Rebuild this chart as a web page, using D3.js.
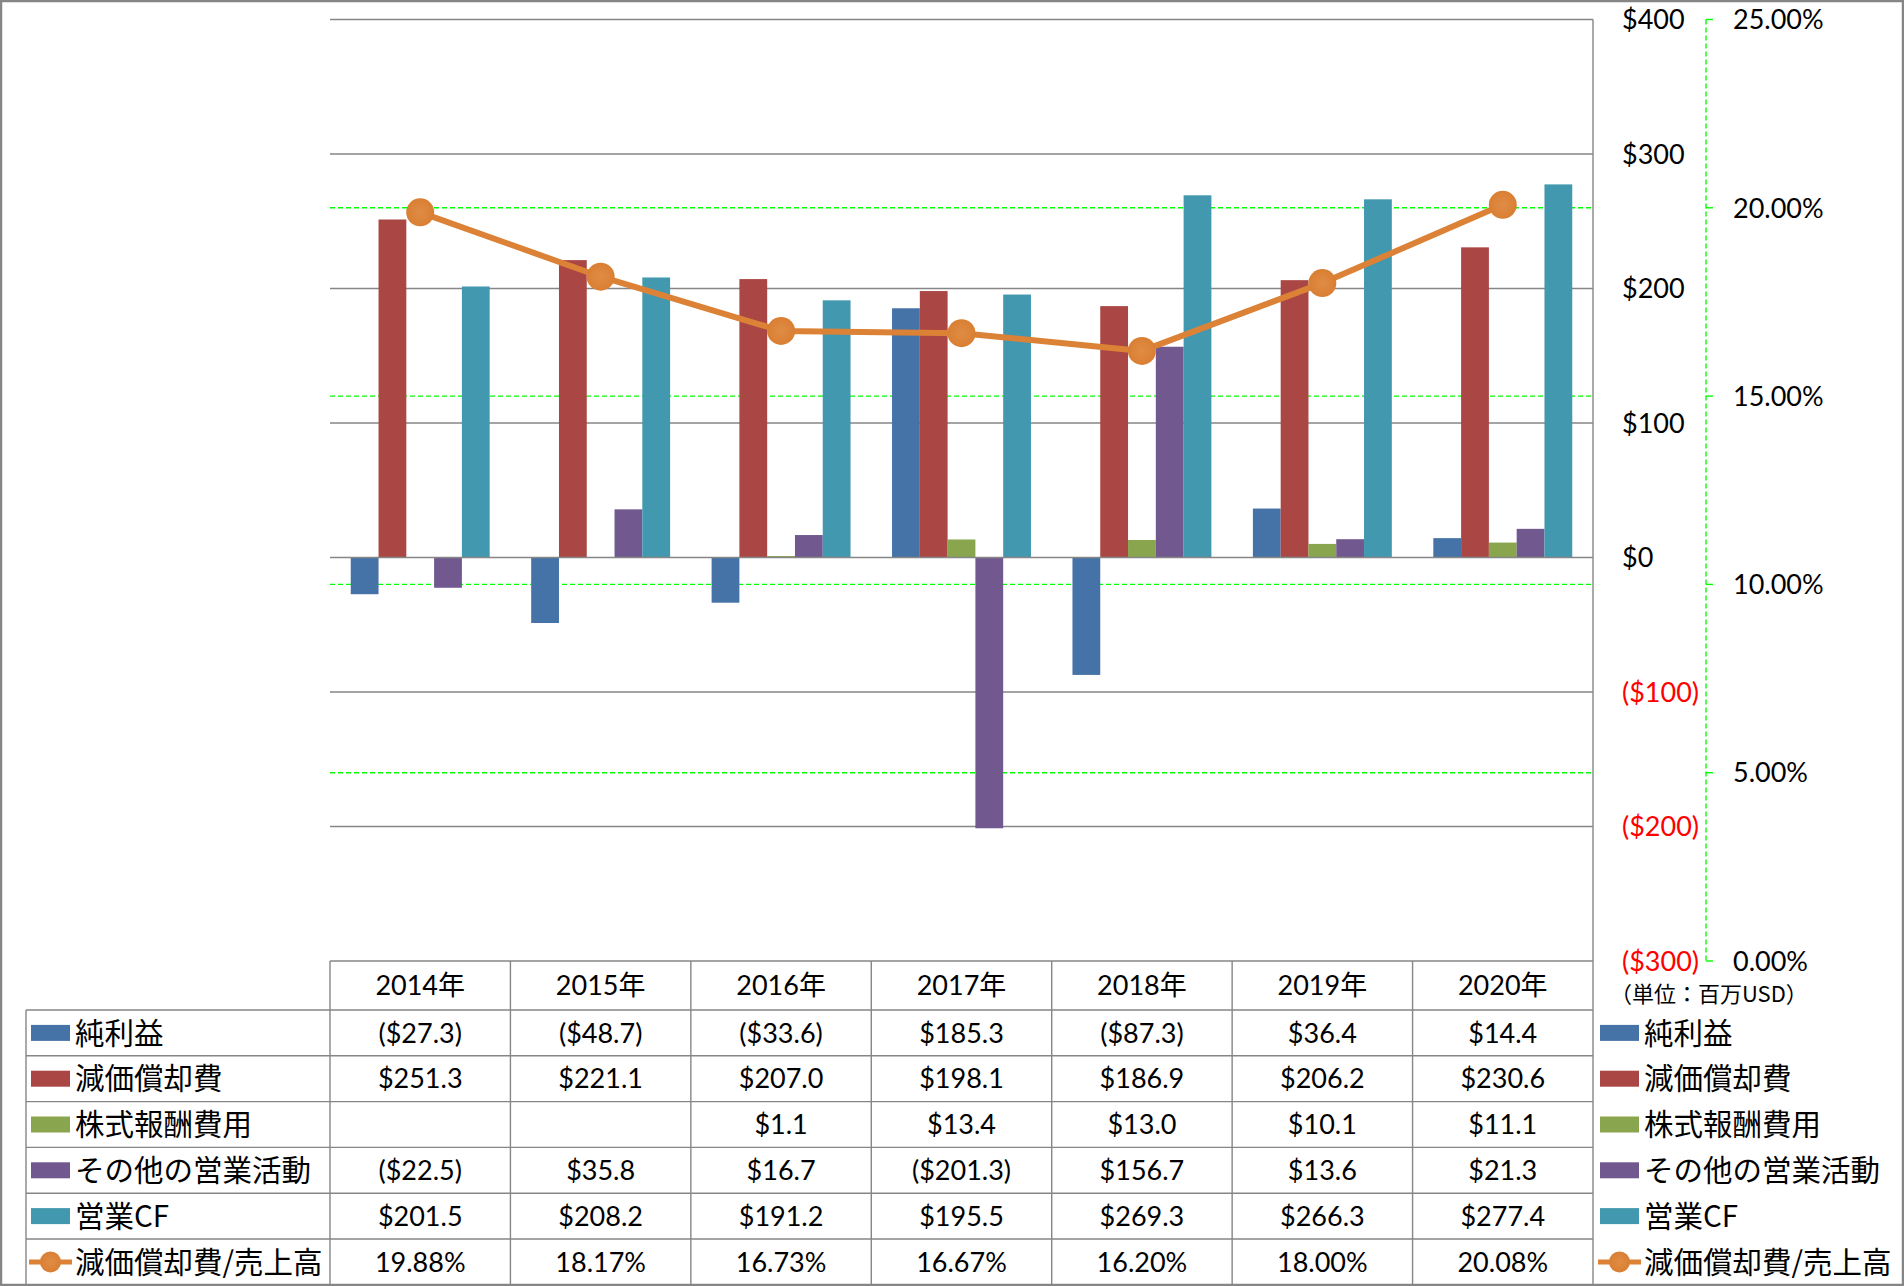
<!DOCTYPE html>
<html>
<head>
<meta charset="utf-8">
<script src="https://cdn.jsdelivr.net/npm/d3@7/dist/d3.min.js"></script>
<style>
  html, body { margin: 0; padding: 0; background: #fff; }
  svg { display: block; }
  text { font-family: Lato, "Noto Sans CJK JP", sans-serif; fill: #000; }
  .jp { font-family: "Noto Sans CJK JP", sans-serif; }
</style>
</head>
<body>
<svg id="chart" width="1904" height="1286"></svg>
<script>
// ---- data ----
const years = ["2014年", "2015年", "2016年", "2017年", "2018年", "2019年", "2020年"];
const netIncome    = [-27.3, -48.7, -33.6, 185.3, -87.3, 36.4, 14.4];
const depreciation = [251.3, 221.1, 207.0, 198.1, 186.9, 206.2, 230.6];
const stockComp    = [null, null, 1.1, 13.4, 13.0, 10.1, 11.1];
const otherOps     = [-22.5, 35.8, 16.7, -201.3, 156.7, 13.6, 21.3];
const operatingCF  = [201.5, 208.2, 191.2, 195.5, 269.3, 266.3, 277.4];
const depRatio     = [19.88, 18.17, 16.73, 16.67, 16.20, 18.00, 20.08];
const barNames  = ["純利益", "減価償却費", "株式報酬費用", "その他の営業活動", "営業CF"];
const lineName  = "減価償却費/売上高";
const barColors = ["#4572A7", "#AA4643", "#89A54E", "#71588F", "#4198AF"];
const lineColor = "#DC8236";
const leftTicks  = [-300, -200, -100, 0, 100, 200, 300, 400];
const rightTicks = [0, 5, 10, 15, 20, 25];
const unitLabel = "（単位：百万USD）";

const barSeries = [netIncome, depreciation, stockComp, otherOps, operatingCF];

// ---- layout ----
const W = 1904, H = 1286;
const plotL = 330, plotR = 1593, plotT = 19.5, plotB = 961;
const rowH = 45.8, headerB = 1010;
const gridColor = "#868686";

const svg = d3.select("#chart");

const x = d3.scaleBand().domain(years).range([plotL, plotR]).paddingInner(0.23).paddingOuter(0.115);
const xCol = d3.scaleBand().domain(years).range([plotL, plotR]).padding(0);
const xSub = d3.scaleBand().domain(d3.range(5)).range([0, x.bandwidth()]).padding(0);
const y = d3.scaleLinear().domain([-300, 400]).range([plotB, plotT]);
const y2 = d3.scaleLinear().domain([0, 25]).range([plotB, plotT]);

const fmtUSD = v => v == null ? "" : (v < 0 ? "($" + Math.abs(v).toFixed(1) + ")" : "$" + v.toFixed(1));
const fmtAxis = v => v < 0 ? "($" + Math.abs(v) + ")" : "$" + v;

// outer border
svg.append("rect").attr("x", 1).attr("y", 1).attr("width", W - 2).attr("height", H - 2)
  .attr("fill", "#fff").attr("stroke", gridColor).attr("stroke-width", 2.5);

// gray gridlines
svg.append("g").selectAll("line").data(leftTicks.filter(t => t > -300 && t !== 0)).join("line")
  .attr("x1", plotL).attr("x2", plotR).attr("y1", d => y(d)).attr("y2", d => y(d))
  .attr("stroke", gridColor).attr("stroke-width", 1.4);

// green dashed gridlines (secondary)
svg.append("g").selectAll("line").data(rightTicks.filter(t => t > 0 && t < 25)).join("line")
  .attr("x1", plotL).attr("x2", plotR).attr("y1", d => y2(d)).attr("y2", d => y2(d))
  .attr("stroke", "#00FF00").attr("stroke-width", 1.4).attr("stroke-dasharray", "5,3");

// bars
const gBars = svg.append("g");
barSeries.forEach((vals, si) => {
  gBars.append("g").selectAll("rect").data(vals.map((v, i) => ({ v, i })).filter(d => d.v != null)).join("rect")
    .attr("x", d => x(years[d.i]) + xSub(si))
    .attr("width", xSub.bandwidth())
    .attr("y", d => y(Math.max(0, d.v)))
    .attr("height", d => Math.abs(y(d.v) - y(0)))
    .attr("fill", barColors[si]);
});

// zero line
svg.append("line").attr("x1", plotL).attr("x2", plotR).attr("y1", y(0)).attr("y2", y(0))
  .attr("stroke", gridColor).attr("stroke-width", 1.4);

// primary axis (right)
svg.append("line").attr("x1", plotR).attr("x2", plotR).attr("y1", plotT).attr("y2", H - 2)
  .attr("stroke", gridColor).attr("stroke-width", 1.4);
svg.append("g").selectAll("text").data(leftTicks).join("text")
  .attr("x", 1622).attr("y", d => y(d)).attr("dy", "0.36em")
  .attr("font-size", 27)
  .style("fill", d => d < 0 ? "#FF0000" : "#000")
  .text(d => fmtAxis(d));

// secondary axis
const ax2 = 1706;
svg.append("line").attr("x1", ax2).attr("x2", ax2).attr("y1", plotT).attr("y2", plotB)
  .attr("stroke", "#00FF00").attr("stroke-width", 1.4).attr("stroke-dasharray", "5,3");
svg.append("g").selectAll("line").data(rightTicks).join("line")
  .attr("x1", ax2).attr("x2", ax2 + 7).attr("y1", d => y2(d)).attr("y2", d => y2(d))
  .attr("stroke", "#00FF00").attr("stroke-width", 1.4);
svg.append("g").selectAll("text").data(rightTicks).join("text")
  .attr("x", 1733).attr("y", d => y2(d)).attr("dy", "0.36em")
  .attr("font-size", 27)
  .text(d => d.toFixed(2) + "%");

// radial gradient for markers
const defs = svg.append("defs");
const rg = defs.append("radialGradient").attr("id", "mk");
rg.append("stop").attr("offset", "0%").attr("stop-color", "#E08C45");
rg.append("stop").attr("offset", "100%").attr("stop-color", "#D97F33");

// line
const cx = i => x(years[i]) + x.bandwidth() / 2;
const line = d3.line().x((d, i) => cx(i)).y(d => y2(d));
svg.append("path").datum(depRatio).attr("d", line)
  .attr("fill", "none").attr("stroke", lineColor).attr("stroke-width", 6).attr("stroke-linejoin", "round");
svg.append("g").selectAll("circle").data(depRatio).join("circle")
  .attr("cx", (d, i) => cx(i)).attr("cy", d => y2(d)).attr("r", 14)
  .attr("fill", "url(#mk)");

// ---- table ----
const tL = 26;
const tg = svg.append("g");
tg.append("line").attr("x1", plotL).attr("x2", plotR).attr("y1", plotB).attr("y2", plotB)
  .attr("stroke", gridColor).attr("stroke-width", 1.4);
d3.range(6).forEach(r => {
  const yy = headerB + r * rowH;
  tg.append("line").attr("x1", tL).attr("x2", plotR).attr("y1", yy).attr("y2", yy)
    .attr("stroke", gridColor).attr("stroke-width", 1.4);
});
tg.append("line").attr("x1", tL).attr("x2", tL).attr("y1", headerB).attr("y2", H - 2)
  .attr("stroke", gridColor).attr("stroke-width", 1.4);
years.forEach(yr => {
  tg.append("line").attr("x1", xCol(yr)).attr("x2", xCol(yr)).attr("y1", plotB).attr("y2", H - 2)
    .attr("stroke", gridColor).attr("stroke-width", 1.4);
});
tg.append("g").selectAll("text").data(years).join("text")
  .attr("x", d => xCol(d) + xCol.bandwidth() / 2).attr("y", (plotB + headerB) / 2).attr("dy", "0.36em")
  .attr("text-anchor", "middle").attr("font-size", 27).text(d => d);

const rows = barSeries.map((vals, si) => ({ name: barNames[si], color: barColors[si], texts: vals.map(fmtUSD), type: "bar" }));
rows.push({ name: lineName, color: lineColor, texts: depRatio.map(v => v.toFixed(2) + "%"), type: "line" });

rows.forEach((row, r) => {
  const cy = headerB + r * rowH + rowH / 2;
  row.texts.forEach((t, i) => {
    tg.append("text").attr("x", xCol(years[i]) + xCol.bandwidth() / 2).attr("y", cy).attr("dy", "0.36em")
      .attr("text-anchor", "middle").attr("font-size", 27).text(t);
  });
  [[31, 75], [1600, 1644]].forEach(([kx, tx]) => {
    if (row.type === "bar") {
      tg.append("rect").attr("x", kx).attr("y", cy - 8).attr("width", 39).attr("height", 16).attr("fill", row.color);
    } else {
      tg.append("line").attr("x1", kx - 2).attr("x2", kx + 41).attr("y1", cy).attr("y2", cy)
        .attr("stroke", row.color).attr("stroke-width", 5);
      tg.append("circle").attr("cx", kx + 19.5).attr("cy", cy).attr("r", 10.5).attr("fill", "url(#mk)");
    }
    tg.append("text").attr("class", "jp").attr("x", tx).attr("y", cy).attr("dy", "0.36em")
      .attr("font-size", 29.5).text(row.name);
  });
});

// unit label
svg.append("text").attr("class", "jp").attr("x", 1610).attr("y", 994).attr("dy", "0.36em")
  .attr("font-size", 22).text(unitLabel);
</script>
</body>
</html>
